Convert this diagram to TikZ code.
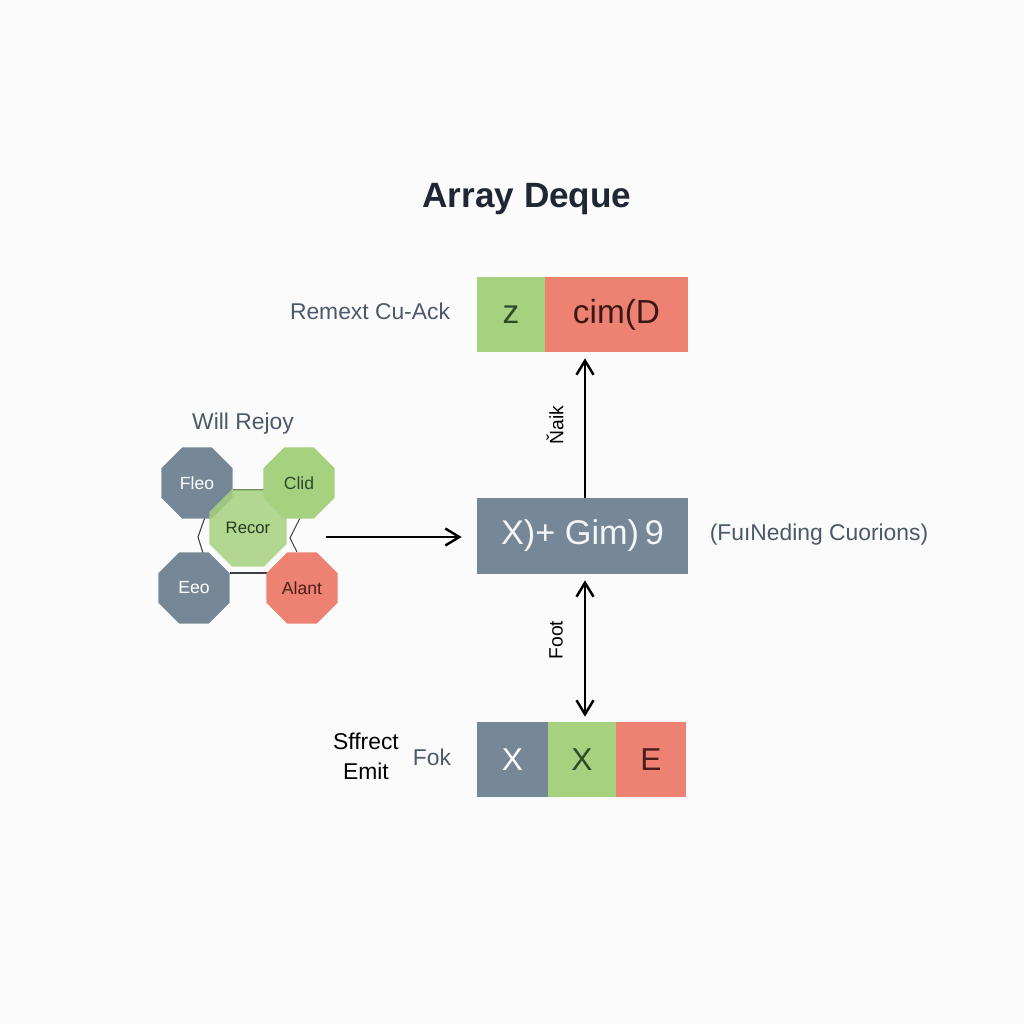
\documentclass[tikz,border=0pt]{standalone}
\usepackage{fontspec}
\setmainfont{Liberation Sans}
\usetikzlibrary{shapes.geometric,arrows.meta,calc}
\definecolor{bg}{HTML}{FBFBFB}
\definecolor{slate}{HTML}{768898}
\definecolor{lgreen}{HTML}{A6D17F}
\definecolor{lred}{HTML}{EE8272}
\definecolor{dark}{HTML}{1E2733}
\definecolor{greytxt}{HTML}{4B5968}
\definecolor{dgreen}{HTML}{2E4A2A}
\definecolor{dred}{HTML}{4A1E1A}
\definecolor{linec}{HTML}{3A3F45}
\tikzset{
  cell/.style={draw=none, minimum height=1.5cm, inner sep=0pt, font=\fontsize{19}{22}\selectfont},
  oct/.style={regular polygon, regular polygon sides=8, minimum size=1.54cm, inner sep=0pt, font=\fontsize{10}{12}\selectfont},
  lbl/.style={text=greytxt, font=\fontsize{13}{15}\selectfont},
  arr/.style={line width=1.4pt, black, -{Straight Barb[length=2.8mm,width=3.4mm,line width=1.4pt]}},
  darr/.style={line width=1.4pt, black, {Straight Barb[length=2.8mm,width=3.4mm,line width=1.4pt]}-{Straight Barb[length=2.8mm,width=3.4mm,line width=1.4pt]}},
  thin/.style={linec, line width=0.6pt}
}
\begin{document}
\begin{tikzpicture}[x=0.02cm,y=-0.02cm]
\fill[bg] (0,0) rectangle (1024,1024);
\useasboundingbox (0,0) rectangle (1024,1024);

\node[text=dark, font=\fontsize{20}{24}\selectfont\bfseries] (title) at (527,199) {Array Deque};

% top bar
\node[cell, fill=lgreen, minimum width=1.36cm, text=dgreen] (t1) at (511,314.5) {z};
\node[cell, fill=lred, minimum width=2.86cm, text=dred!80!black] (t2) at (616.5,314.5) {cim(D};
\node[lbl] (tl) at (370,311) {Remext Cu-Ack};

% middle box
\node[cell, fill=slate, minimum width=4.22cm, minimum height=1.52cm, text=white!92!slate, font=\fontsize{19.5}{24}\selectfont] (mid) at (582.5,536) {X)+ Gim)\,9};
\node[lbl] (ml) at (819,535) {(FuıNeding Cuorions)};

% bottom bar
\node[cell, fill=slate, minimum width=1.42cm, text=white, font=\fontsize{18}{22}\selectfont] (b1) at (512.5,759.5) {X};
\node[cell, fill=lgreen, minimum width=1.36cm, text=dgreen, font=\fontsize{18}{22}\selectfont] (b2) at (582,759.5) {X};
\node[cell, fill=lred, minimum width=1.40cm, text=dred, font=\fontsize{18}{22}\selectfont] (b3) at (651,759.5) {E};
\node[text=black, align=center, font=\fontsize{13}{17}\selectfont] (bl1) at (366,756) {Sffrect\\Emit};
\node[lbl] (bl2) at (432,757) {Fok};

% arrows
\coordinate (ua) at ($(mid.north)+(2.5,0)$);
\coordinate (ub) at ($(t2.south -| ua)+(0,6)$);
\draw[arr] (ua) -- (ub);
\node[rotate=90, text=black, font=\fontsize{11}{13}\selectfont] (ulab) at (555,425) {Ňaik};

\coordinate (la) at ($(mid.south)+(2.5,6)$);
\coordinate (lb) at ($(b2.north -| la)+(0,-5)$);
\draw[darr] (la) -- (lb);
\node[rotate=90, text=black, font=\fontsize{11}{13}\selectfont] (llab) at (556,640) {Foot};

\coordinate (hs) at (326,537);
\draw[arr] (hs) -- ($(mid.west)+(-15,1)$);

% cluster
\node[text=greytxt, font=\fontsize{13}{15}\selectfont] (ctitle) at (243,424) {Will Rejoy};
\coordinate (c1) at (233,490); \coordinate (c2) at (264,490);
\draw[thin] (c1) -- (c2);
\coordinate (l1) at (205,517); \coordinate (l2) at (198,537); \coordinate (l3) at (203,553);
\draw[thin] (l1) -- (l2) -- (l3);
\coordinate (r1) at (300,518); \coordinate (r2) at (290,538); \coordinate (r3) at (297,552);
\draw[thin] (r1) -- (r2) -- (r3);
\coordinate (d1) at (230,573); \coordinate (d2) at (268,573);
\draw[thin] (d1) -- (d2);

\node[oct, fill=slate, text=white] (fleo) at (197,483) {Fleo};
\node[oct, fill=lgreen, text=dgreen] (clid) at (299,483) {Clid};
\node[oct, fill=slate, text=white] (eeo) at (194,588) {Eeo};
\node[oct, fill=lred, text=dred] (alant) at (302,588) {Alant};
\node[oct, minimum size=1.67cm, fill=lgreen, fill opacity=0.85, text opacity=1, text=dgreen!80!black, font=\fontsize{9.5}{12}\selectfont] (recor) at (248,528) {Recor};
\end{tikzpicture}
\end{document}
